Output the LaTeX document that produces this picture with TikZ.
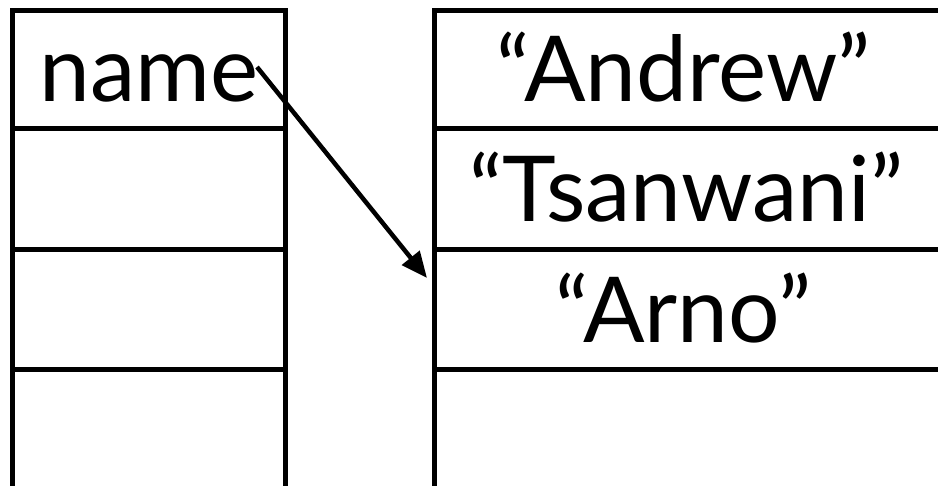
\documentclass[tikz,border=0pt]{standalone}
\usepackage{fontspec}
\setmainfont{Lato}
\usetikzlibrary{arrows.meta}
\begin{document}
\begin{tikzpicture}[x=1pt,y=-1pt,
  gridline/.style={line width=5pt,line join=miter,line cap=rect},
  label/.style={anchor=base,inner sep=0pt,font=\fontsize{91}{105}\selectfont},
  pointer/.style={line width=4.5pt,-{Triangle[length=26pt,width=22pt]}}]
\useasboundingbox[fill=white] (0,0) rectangle (938,486);
% left column
\draw[gridline] (12,500) -- (12,11) -- (285,11) -- (285,500);
\draw[gridline] (12,129) -- (285,129);
\draw[gridline] (12,249.5) -- (285,249.5);
\draw[gridline] (12,369.5) -- (285,369.5);
% right column
\draw[gridline] (434,500) -- (434,11) -- (950,11);
\draw[gridline] (434,129) -- (950,129);
\draw[gridline] (434,249.5) -- (950,249.5);
\draw[gridline] (434,369.5) -- (950,369.5);
% texts
\node[label] (name) at (149,102) {name};
\node[label] (andrew) at (683.5,102) {“Andrew”};
\node[label] (tsanwani) at (686.5,222) {“Tsanwani”};
\node[label] (arno) at (683.5,343) {“Arno”};
\coordinate (start) at (257,67);
\coordinate (target) at (427,278);
\draw[pointer] (start) -- (target);
\end{tikzpicture}
\end{document}
